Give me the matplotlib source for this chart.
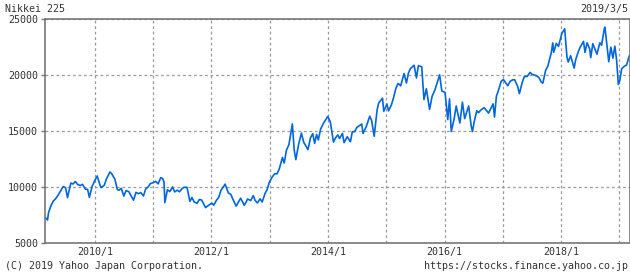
import pandas as pd
import matplotlib
matplotlib.use('Agg')
import matplotlib.pyplot as plt

# Nikkei 225 closes (roughly two or more points per month)
dates = [
    '2009-02-24', '2009-03-10', '2009-03-16', '2009-04-01', '2009-04-15', '2009-05-01', '2009-05-15',
    '2009-06-01', '2009-06-15', '2009-07-01', '2009-07-13', '2009-08-03', '2009-08-17', '2009-08-31',
    '2009-09-15', '2009-10-01', '2009-10-15', '2009-11-02', '2009-11-16', '2009-11-27', '2009-12-15',
    '2009-12-30', '2010-01-15', '2010-02-01', '2010-02-08', '2010-02-15', '2010-03-01', '2010-03-15',
    '2010-04-01', '2010-04-05', '2010-04-15', '2010-05-06', '2010-05-21', '2010-06-01', '2010-06-15',
    '2010-07-01', '2010-07-15', '2010-08-02', '2010-08-16', '2010-08-31', '2010-09-15', '2010-10-01',
    '2010-10-15', '2010-11-01', '2010-11-15', '2010-12-01', '2010-12-15', '2011-01-04', '2011-01-17',
    '2011-02-01', '2011-02-17', '2011-03-01', '2011-03-10', '2011-03-15', '2011-03-31', '2011-04-15',
    '2011-05-02', '2011-05-16', '2011-06-01', '2011-06-15', '2011-07-01', '2011-07-15', '2011-08-01',
    '2011-08-19', '2011-09-01', '2011-09-15', '2011-10-03', '2011-10-17', '2011-11-01', '2011-11-25',
    '2011-12-15', '2012-01-04', '2012-01-16', '2012-02-01', '2012-02-15', '2012-03-01', '2012-03-27',
    '2012-04-16', '2012-05-01', '2012-05-15', '2012-06-04', '2012-06-15', '2012-07-02', '2012-07-25',
    '2012-08-15', '2012-09-03', '2012-09-19', '2012-10-01', '2012-10-15', '2012-11-01', '2012-11-14',
    '2012-12-03', '2012-12-14', '2012-12-28', '2013-01-15', '2013-02-01', '2013-02-15', '2013-03-01',
    '2013-03-21', '2013-04-01', '2013-04-15', '2013-05-01', '2013-05-22', '2013-06-03', '2013-06-13',
    '2013-07-01', '2013-07-18', '2013-08-01', '2013-08-28', '2013-09-13', '2013-09-27', '2013-10-09',
    '2013-10-21', '2013-11-01', '2013-11-15', '2013-12-02', '2013-12-30', '2014-01-15', '2014-02-04',
    '2014-02-17', '2014-03-03', '2014-03-14', '2014-04-01', '2014-04-11', '2014-05-01', '2014-05-21',
    '2014-06-02', '2014-06-16', '2014-07-01', '2014-07-31', '2014-08-08', '2014-08-29', '2014-09-19',
    '2014-10-01', '2014-10-17', '2014-11-04', '2014-11-14', '2014-12-08', '2014-12-16', '2015-01-05',
    '2015-01-15', '2015-02-02', '2015-02-16', '2015-03-02', '2015-03-16', '2015-04-01', '2015-04-22',
    '2015-05-07', '2015-05-20', '2015-06-01', '2015-06-24', '2015-07-09', '2015-07-21', '2015-08-11',
    '2015-08-25', '2015-09-09', '2015-09-29', '2015-10-15', '2015-11-02', '2015-12-01', '2015-12-15',
    '2016-01-04', '2016-01-21', '2016-02-01', '2016-02-12', '2016-03-01', '2016-03-14', '2016-04-06',
    '2016-04-22', '2016-05-06', '2016-05-31', '2016-06-16', '2016-06-24', '2016-07-04', '2016-07-21',
    '2016-08-01', '2016-08-15', '2016-09-05', '2016-09-21', '2016-10-03', '2016-10-31', '2016-11-09',
    '2016-11-21', '2016-12-01', '2016-12-21', '2017-01-04', '2017-01-31', '2017-02-15', '2017-03-02',
    '2017-03-15', '2017-04-03', '2017-04-14', '2017-05-01', '2017-05-15', '2017-06-01', '2017-06-20',
    '2017-07-03', '2017-07-31', '2017-08-15', '2017-08-29', '2017-09-08', '2017-09-25', '2017-10-10',
    '2017-10-31', '2017-11-09', '2017-11-15', '2017-12-01', '2017-12-15', '2018-01-05', '2018-01-23',
    '2018-02-06', '2018-02-14', '2018-03-01', '2018-03-23', '2018-04-02', '2018-04-20', '2018-05-01',
    '2018-05-21', '2018-05-30', '2018-06-12', '2018-06-29', '2018-07-05', '2018-07-18', '2018-08-13',
    '2018-08-31', '2018-09-11', '2018-09-28', '2018-10-02', '2018-10-26', '2018-11-08', '2018-11-21',
    '2018-12-03', '2018-12-14', '2018-12-25', '2019-01-04', '2019-01-15', '2019-01-31', '2019-02-15',
    '2019-03-01', '2019-03-05',
]
closes = [
    7268, 7054, 7704, 8351, 8742, 8977, 9265,
    9677, 10039, 9939, 9050, 10352, 10268, 10492,
    10217, 10133, 10238, 9802, 9791, 9081, 10083,
    10546, 10982, 10205, 9951, 10013, 10172, 10751,
    11244, 11339, 11204, 10695, 9784, 9711, 9878,
    9191, 9685, 9570, 9197, 8824, 9516, 9404,
    9500, 9202, 9827, 10017, 10309, 10398, 10502,
    10274, 10836, 10754, 10434, 8605, 9755, 9591,
    10004, 9558, 9720, 9574, 9868, 9974, 9965,
    8719, 9060, 8668, 8545, 8879, 8835, 8160,
    8377, 8560, 8378, 8809, 9052, 9707, 10255,
    9470, 9350, 8900, 8295, 8569, 9003, 8366,
    8929, 8783, 9232, 8797, 8577, 8946, 8664,
    9458, 9737, 10395, 10880, 11191, 11173, 11606,
    12635, 12135, 13275, 13799, 15627, 13262, 12445,
    13852, 14808, 14005, 13338, 14404, 14760, 13894,
    14693, 14201, 15165, 15661, 16291, 15809, 14008,
    14393, 14652, 14327, 14791, 13960, 14485, 14042,
    14935, 14933, 15326, 15620, 14778, 15424, 16321,
    15932, 14532, 16862, 17490, 17935, 16755, 17408,
    16795, 17335, 18004, 18826, 19246, 19034, 20133,
    19291, 20196, 20569, 20868, 19737, 20841, 20720,
    17806, 18770, 16930, 18097, 18683, 20012, 18565,
    18450, 16017, 17865, 14952, 16085, 17233, 15715,
    17572, 16106, 17234, 15434, 14952, 15775, 16810,
    16635, 16869, 17081, 16807, 16598, 17425, 16251,
    18106, 18513, 19444, 19594, 19041, 19438, 19564,
    19577, 18983, 18335, 19310, 19869, 19860, 20230,
    20055, 19925, 19754, 19362, 19274, 20397, 20823,
    22012, 22869, 22028, 22819, 22553, 23714, 24124,
    21610, 21154, 21724, 20617, 21388, 22162, 22508,
    23002, 22018, 22878, 22305, 21547, 22794, 21858,
    22865, 22664, 24120, 24271, 21184, 22487, 21507,
    22574, 21374, 19155, 19561, 20555, 20773, 20900,
    21602, 21726,
]
year_ticks = [2010, 2011, 2012, 2013, 2014, 2015, 2016, 2017, 2018, 2019]
y_ticks = [5000, 10000, 15000, 20000, 25000]

df = pd.DataFrame({'Date': pd.to_datetime(dates), 'Close': closes})

TEXT = '#333333'
FRAME = '#777777'
FS = 7.2
plt.rcParams['font.family'] = ['DejaVu Sans Mono']

fig = plt.figure(figsize=(6.30, 2.73), dpi=100)
ax = fig.add_axes([45 / 630, 1 - 243 / 273, 584.5 / 630, 224 / 273])

ax.plot(df['Date'], df['Close'], color='#0066dd', lw=1.2)

ax.set_ylim(5000, 25000)
ax.set_xlim(pd.Timestamp('2009-02-22'), pd.Timestamp('2019-03-05'))

ax.set_yticks(y_ticks)
ax.set_yticklabels([str(v) for v in y_ticks], fontsize=FS, color=TEXT)
tick_pos = [pd.Timestamp(f'{y}-01-01') for y in year_ticks]
ax.set_xticks(tick_pos)
ax.set_xticklabels([f'{y}/1' if y % 2 == 0 else '' for y in year_ticks], fontsize=FS, color=TEXT)
ax.tick_params(axis='y', length=3, width=1, color=FRAME, pad=2)
ax.tick_params(axis='x', length=0, pad=3)

ax.grid(True, color='#999999', linestyle=(0, (2.2, 2.2)), lw=0.9)
for s in ax.spines.values():
    s.set_color(FRAME)
    s.set_linewidth(1.2)

fig.text(5 / 630, 1 - 9 / 273, 'Nikkei 225', fontsize=FS, color=TEXT, va='center', ha='left')
fig.text(628 / 630, 1 - 9 / 273, '2019/3/5', fontsize=FS, color=TEXT, va='center', ha='right')
fig.text(5 / 630, 1 - 266 / 273, '(C) 2019 Yahoo Japan Corporation.', fontsize=FS, color=TEXT,
         va='center', ha='left')
fig.text(628 / 630, 1 - 266 / 273, 'https://stocks.finance.yahoo.co.jp', fontsize=FS, color=TEXT,
         va='center', ha='right')

fig.savefig('out.png', dpi=100)
